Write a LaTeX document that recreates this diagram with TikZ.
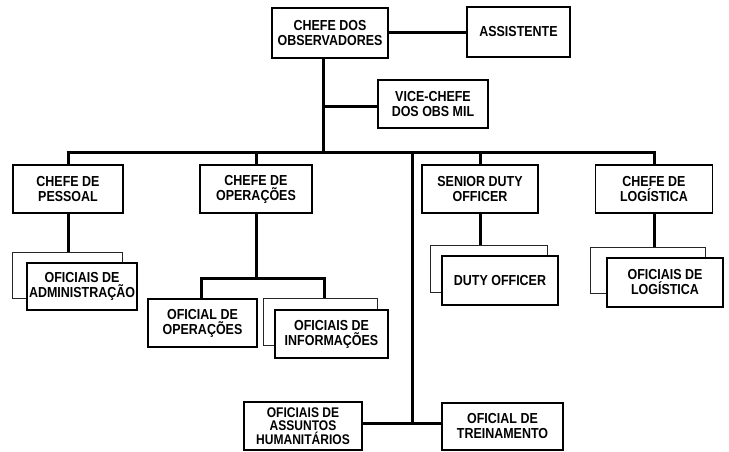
\documentclass[tikz,border=0pt]{standalone}
\usepackage{fontspec}
\newfontfamily\bx{Liberation Sans}[UprightFont=* Bold, FakeStretch=0.86]
\begin{document}
\begin{tikzpicture}[x=1pt,y=-1pt,
  box/.style={draw=black, line width=1.6pt, fill=white, align=center, inner sep=1pt,
    font=\bx\fontsize{14.5}{15}\selectfont},
  backbox/.style={draw=black!85, line width=1pt, fill=white},
  conn/.style={line width=3pt}]
\useasboundingbox (0,0) rectangle (729,452);
% top
\node[box, minimum width=116pt, minimum height=50pt] (chefe) at (330,33) {CHEFE DOS\\OBSERVADORES};
\node[box, minimum width=103pt, minimum height=50pt] (assist) at (518.5,32) {ASSISTENTE};
\node[box, minimum width=110pt, minimum height=48pt] (vice) at (433,104) {VICE-CHEFE\\DOS OBS MIL};
% level 2
\node[box, minimum width=110pt, minimum height=48pt] (pessoal) at (68,189) {CHEFE DE\\PESSOAL};
\node[box, minimum width=112pt, minimum height=48pt] (operacoes) at (256,189) {CHEFE DE\\OPERAÇÕES};
\node[box, minimum width=116pt, minimum height=48pt] (sdo) at (480,189) {SENIOR DUTY\\OFFICER};
\node[box, minimum width=117pt, minimum height=48pt] (logistica) at (654,189) {CHEFE DE\\LOGÍSTICA};
% stacked boxes
\node[backbox, minimum width=110pt, minimum height=46pt] (adminb) at (67,275) {};
\node[box, minimum width=110pt, minimum height=47pt] (admin) at (82,286.5) {OFICIAIS DE\\ADMINISTRAÇÃO};
\node[box, minimum width=109pt, minimum height=48pt] (opop) at (202.5,323) {OFICIAL DE\\OPERAÇÕES};
\node[backbox, minimum width=114pt, minimum height=47pt] (infob) at (320,321.5) {};
\node[box, minimum width=113pt, minimum height=48pt] (info) at (331.5,334) {OFICIAIS DE\\INFORMAÇÕES};
\node[backbox, minimum width=117pt, minimum height=47pt] (dutyb) at (488.5,268.5) {};
\node[box, minimum width=116pt, minimum height=49pt] (duty) at (500,280.5) {DUTY OFFICER};
\node[backbox, minimum width=115pt, minimum height=46pt] (logb) at (647.5,270) {};
\node[box, minimum width=116pt, minimum height=49pt] (log) at (665,282.5) {OFICIAIS DE\\LOGÍSTICA};
% bottom
\node[box, minimum width=118pt, minimum height=48pt, font=\bx\fontsize{14}{13.3}\selectfont] (human) at (303,426) {OFICIAIS DE\\ASSUNTOS\\HUMANITÁRIOS};
\node[box, minimum width=121pt, minimum height=47pt] (trein) at (502.5,426.5) {OFICIAL DE\\TREINAMENTO};
% coordinates
\coordinate (sp) at (323,152);
\coordinate (cv) at (412,423);
\coordinate (ob1) at (201,278);
\coordinate (ob2) at (324,278);
% connectors
\draw[conn] (chefe.east) -- (chefe.east -| assist.west);
\draw[conn] (sp |- chefe.south) -- (sp);
\draw[conn] (sp |- 0,107) -- (vice.west |- 0,107);
\draw[conn] ([xshift=-1.5pt]pessoal.north |- sp) -- ([xshift=1.5pt]logistica.north |- sp);
\draw[conn] (pessoal.north |- sp) -- (pessoal.north);
\draw[conn] (operacoes.north |- sp) -- (operacoes.north);
\draw[conn] (sdo.north |- sp) -- (sdo.north);
\draw[conn] (logistica.north |- sp) -- (logistica.north);
\draw[conn] (cv |- sp) -- (cv);
\draw[conn] (human.east |- cv) -- (trein.west |- cv);
\draw[conn] (pessoal.south) -- (pessoal.south |- adminb.north);
\draw[conn] (operacoes.south) -- (operacoes.south |- ob1);
\draw[conn] (ob1 |- opop.north) -- (ob1) -- (ob2) -- (ob2 |- infob.north);
\draw[conn] (sdo.south) -- (sdo.south |- dutyb.north);
\draw[conn] (logistica.south) -- (logistica.south |- logb.north);
\end{tikzpicture}
\end{document}
